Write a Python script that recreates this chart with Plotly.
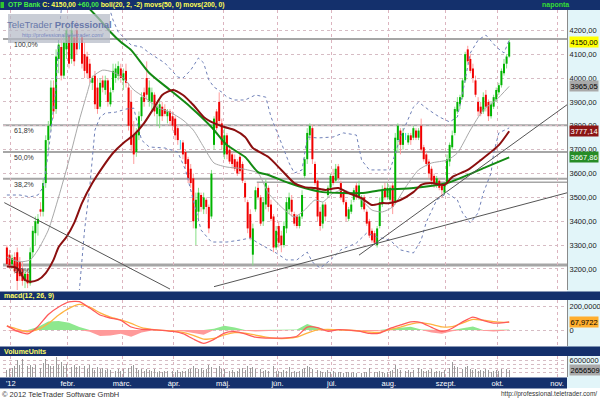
import pandas as pd
import plotly.graph_objects as go

# ---------------- data ----------------
holidays = ["2012-03-15", "2012-03-16", "2012-04-09", "2012-04-30",
            "2012-05-01", "2012-05-28", "2012-08-20"]
trading_days = [d.strftime("%Y-%m-%d")
                for d in pd.bdate_range("2011-12-29", "2012-10-05")
                if d.strftime("%Y-%m-%d") not in holidays]

opens = [3290,3260,3220,3250,3270,3230,3200,3150,3180,3140,
         3270,3350,3390,3450,3440,3560,3740,3800,3960,3870,
         4080,4130,4010,4120,4180,4080,4170,4200,4140,4170,
         4100,4090,4060,3980,4010,3960,3880,3990,3950,3990,
         3890,3950,4000,4010,4040,3990,4030,3960,3900,3760,
         3690,3760,3840,3940,4000,3900,3900,3930,3850,3840,
         3880,3870,3840,3860,3840,3830,3790,3720,3730,3690,
         3660,3620,3580,3370,3440,3510,3450,3490,3460,3420,
         3720,3860,3900,3810,3680,3760,3700,3680,3660,3650,
         3670,3640,3560,3480,3430,3260,3450,3540,3500,3400,
         3470,3540,3470,3420,3290,3380,3340,3300,3370,3450,
         3490,3430,3420,3380,3420,3590,3660,3760,3790,3640,
         3570,3440,3390,3470,3510,3540,3590,3570,3630,3560,
         3520,3480,3410,3440,3490,3550,3500,3460,3500,3440,
         3400,3360,3350,3300,3380,3470,3540,3500,3490,3550,
         3480,3740,3780,3720,3760,3730,3760,3750,3780,3750,
         3800,3710,3680,3650,3620,3590,3550,3570,3550,3520,
         3560,3650,3710,3770,3860,3890,3920,3990,4120,4080,
         4040,3990,3900,3880,3860,3930,3900,3840,3880,3910,
         3940,3970,4020,4060,4090]
highs = [3300,3280,3260,3270,3290,3250,3230,3200,3200,3290,
         3380,3420,3430,3480,3580,3760,3820,3990,3990,4120,
         4160,4170,4180,4220,4200,4230,4200,4240,4170,4180,
         4150,4110,4080,4010,4030,4000,4000,4010,4010,4000,
         3960,4060,4060,4070,4060,4040,4060,3980,3950,3820,
         3790,3860,3940,3960,4070,3990,3960,3940,3900,3910,
         3900,3890,3870,3870,3860,3840,3800,3740,3740,3700,
         3670,3640,3600,3520,3540,3520,3520,3500,3470,3615,
         3840,3870,3940,3830,3790,3770,3720,3690,3680,3660,
         3690,3650,3570,3490,3450,3390,3545,3560,3510,3500,
         3580,3550,3490,3430,3380,3400,3360,3400,3500,3520,
         3510,3440,3430,3430,3530,3670,3790,3810,3805,3650,
         3580,3460,3480,3480,3550,3600,3620,3640,3640,3570,
         3530,3490,3460,3490,3540,3560,3570,3510,3510,3450,
         3410,3370,3360,3380,3500,3550,3560,3560,3550,3560,
         3770,3810,3790,3790,3770,3770,3770,3800,3790,3790,
         3830,3720,3690,3660,3630,3600,3590,3580,3560,3560,
         3680,3730,3780,3880,3920,3930,4000,4110,4135,4100,
         4060,4010,3920,3900,3940,3950,3910,3900,3930,3960,
         3980,4040,4080,4100,4165]
lows = [3210,3200,3200,3180,3112,3150,3130,3120,3120,3130,
        3250,3300,3340,3420,3420,3540,3700,3780,3830,3850,
        4020,3990,4000,4080,4040,4060,4050,4100,4120,4040,
        4000,4000,3980,3950,3870,3850,3870,3940,3930,3880,
        3880,3940,3980,3990,3980,3950,3960,3780,3690,3640,
        3670,3740,3820,3880,3910,3880,3860,3840,3800,3790,
        3820,3840,3810,3800,3780,3740,3720,3700,3660,3620,
        3560,3540,3370,3300,3400,3440,3430,3430,3350,3410,
        3700,3780,3800,3700,3660,3660,3640,3620,3610,3590,
        3600,3560,3480,3350,3320,3215,3440,3490,3380,3380,
        3450,3440,3400,3270,3280,3290,3270,3290,3350,3430,
        3420,3380,3370,3370,3410,3580,3640,3740,3640,3550,
        3400,3360,3370,3400,3500,3520,3550,3560,3570,3490,
        3470,3400,3400,3430,3480,3490,3490,3450,3440,3380,
        3330,3310,3300,3290,3370,3460,3490,3490,3480,3430,
        3470,3690,3680,3700,3740,3720,3720,3740,3740,3740,
        3690,3650,3630,3580,3550,3540,3540,3530,3500,3510,
        3550,3630,3700,3760,3850,3870,3910,3980,4060,4020,
        3980,3920,3840,3840,3850,3860,3820,3830,3870,3900,
        3930,3960,4010,4040,4085]
closes = [3220,3215,3245,3190,3150,3170,3150,3180,3140,3270,
          3360,3400,3410,3440,3560,3740,3800,3960,3860,4090,
          4140,4010,4150,4200,4060,4200,4070,4120,4140,4060,
          4030,4020,4000,4000,3890,3870,3980,3960,3990,3900,
          3940,4030,4040,4050,4000,4020,3980,3800,3720,3680,
          3770,3840,3920,3900,3930,3960,3940,3860,3880,3890,
          3840,3850,3860,3820,3800,3760,3740,3720,3680,3640,
          3580,3560,3400,3490,3520,3460,3500,3460,3370,3600,
          3830,3790,3820,3720,3760,3680,3650,3640,3620,3600,
          3610,3570,3500,3370,3330,3370,3530,3500,3390,3480,
          3560,3460,3410,3290,3360,3310,3300,3380,3480,3500,
          3440,3390,3380,3420,3510,3660,3770,3800,3660,3560,
          3420,3380,3470,3420,3540,3590,3560,3620,3580,3500,
          3480,3420,3450,3470,3530,3500,3550,3500,3450,3390,
          3340,3320,3310,3370,3480,3530,3500,3540,3540,3460,
          3750,3800,3720,3770,3760,3760,3740,3790,3750,3780,
          3700,3660,3640,3600,3570,3560,3580,3540,3530,3550,
          3660,3720,3760,3870,3900,3920,3990,4100,4070,4030,
          4000,3930,3860,3850,3920,3880,3840,3890,3920,3950,
          3970,4030,4060,4090,4150]
volumes_m = [2.5,3.0,3.2,4.0,6.1,4.5,6.7,4.9,3.9,4.4,
             3.8,4.6,4.2,3.5,5.0,6.6,4.8,4.1,3.9,7.2,
             4.6,5.4,4.0,4.9,5.3,3.8,4.6,3.6,4.2,3.3,
             3.9,3.1,4.3,3.2,2.7,3.6,2.9,3.4,2.5,3.0,
             2.6,3.2,2.4,2.8,2.3,3.0,2.6,3.5,4.1,4.4,
             3.2,2.7,2.9,2.3,3.1,2.6,2.2,2.8,2.0,2.4,
             1.9,2.3,2.1,1.8,2.2,1.9,2.5,1.7,2.4,2.1,
             2.8,3.0,4.2,3.5,2.9,3.3,2.6,3.1,4.3,3.6,
             6.3,3.4,3.9,2.8,3.1,2.5,2.2,2.7,2.0,2.4,
             2.9,3.2,2.6,4.1,3.4,3.8,2.9,2.5,3.0,2.3,
             2.6,2.1,2.8,3.9,2.4,2.2,1.9,2.6,2.3,3.6,
             2.0,2.2,1.8,2.4,2.9,3.5,4.2,3.8,3.1,2.5,
             2.7,2.3,2.0,1.8,2.6,1.9,2.2,1.6,1.8,2.0,
             1.5,1.9,1.7,1.4,1.8,1.6,2.1,1.5,1.8,1.9,
             3.3,2.4,2.0,1.7,2.3,2.0,1.6,1.9,2.2,2.5,
             4.4,3.1,2.6,2.9,2.2,2.5,2.0,2.7,2.3,3.4,
             2.8,2.4,2.1,2.6,2.9,1.9,2.4,2.2,2.0,2.7,
             3.6,3.2,5.6,4.1,3.8,3.3,3.0,3.7,4.0,3.1,
             2.6,2.8,2.4,2.7,2.2,3.0,2.5,1.9,2.3,2.6,
             2.1,2.8,2.4,3.1,2.656509]

# indicator lines (index into trading_days, value)
ma50_day = [0,4,7,9,12,15,18,20,23,26,29,33,37,41,45,49,53,57,60,64,68,72,76,80,84,
            88,92,95,101,106,111,115,119,123,128,132,137,141,145,148,152,157,160,164,
            169,172,178,183,190,194]
ma50_val = [3210,3204,3154,3147,3154,3183,3238,3292,3334,3393,3476,3560,3627,3686,3728,
            3761,3811,3878,3929,3950,3929,3887,3837,3811,3795,3782,3753,3707,3669,3615,
            3560,3543,3539,3531,3539,3518,3497,3468,3476,3476,3489,3522,3552,3560,3552,
            3585,3615,3656,3719,3777.14]
ma200_day = [31,36,40,44,48,55,63,71,79,85,92,97,101,109,115,122,130,137,145,157,170,178,185,194]
ma200_val = [4300,4243,4193,4151,4117,4021,3950,3878,3795,3719,3669,3606,3594,3560,3539,
             3522,3518,3518,3531,3539,3560,3594,3627,3667.86]
bb_mid_day = [0,5,9,12,16,20,24,28,31,33,37,41,45,49,53,58,63,68,72,76,80,85,89,93,97,101,
              106,111,115,119,122,126,130,133,137,141,145,149,154,159,164,170,174,179,184,189,194]
bb_mid_val = [3250,3230,3238,3280,3363,3502,3656,3824,3937,4004,4033,4025,4000,3950,3920,
              3878,3857,3824,3782,3711,3644,3627,3623,3615,3602,3518,3460,3418,3447,3489,
              3481,3518,3531,3518,3489,3447,3439,3460,3543,3615,3644,3656,3686,3782,3866,
              3908,3965.05]
bb_up_day = [0,5,9,12,14,16,19,20,21,25,30,36,41,43,48,52,55,61,66,68,71,74,76,78,80,83,85,
             88,92,96,100,102,106,109,111,114,116,120,126,130,135,137,140,145,148,152,157,
             159,163,167,171,174,176,179,182,185,189,192,194]
bb_up_val = [3510,3510,3502,3510,3543,3686,3962,4172,4285,4480,4520,4420,4243,4193,4138,
             4130,4105,4063,4004,4000,4033,4084,4063,3992,3962,3941,3920,3908,3908,3929,
             3920,3837,3728,3644,3602,3615,3753,3749,3753,3770,3761,3656,3615,3615,3615,
             3753,3878,3899,3866,3837,3816,3837,3937,4105,4159,4180,4130,4105,4159]
bb_low_day = [26,28,30,32,34,36,38,42,46,49,52,55,61,66,69,72,75,79,85,90,94,97,100,104,108,
              112,116,118,121,125,129,135,139,143,148,152,157,160,162,166,170,174,176,179,
              182,184,187,188,190,192,194]
bb_low_val = [2980,3112,3363,3543,3782,3837,3853,3857,3870,3874,3740,3711,3707,3690,3615,
              3489,3363,3313,3313,3321,3330,3309,3292,3267,3238,3238,3271,3229,3204,3238,
              3280,3309,3351,3334,3321,3280,3267,3321,3397,3489,3518,3489,3435,3393,3435,
              3518,3602,3686,3770,3782,3791]

macd_day = list(range(0, 193, 4)) + [194]
macd_line = [34,-10,-32,30,130,192,234,236,183,125,100,80,25,6,4,-3,-12,-30,-75,-111,
             -78,-25,-14,-32,-60,-67,-68,-66,-52,25,20,-10,3,0,-10,-28,-25,14,42,68,
             62,22,-12,15,68,108,80,58,62,67.9722]
macd_signal = [34,8,-14,5,55,125,180,213,190,143,108,84,55,20,5,-3,-7,-20,-45,-75,
               -70,-40,-22,-25,-42,-60,-70,-70,-60,-25,2,5,2,-2,-8,-17,-19,5,25,50,
               62,47,27,28,58,88,82,70,64,64]
macd_hist = [0,-15,-20,25,70,75,60,25,-15,-50,-45,-30,-55,-20,-3,0,-3,-10,-25,-40,
             10,36,20,-5,-12,-8,-3,0,5,50,20,-12,0,0,-3,-10,-6,10,20,28,
             5,-20,-30,-10,15,30,-5,-12,-5,5]

fib_levels = [4163, 3802, 3690, 3578, 3217]
fib_labels = ["100,0%", "61,8%", "50,0%", "38,2%", "0,0%"]
support_level = 3563

trend_x = [["2011-12-28", "2012-03-29"], ["2012-04-24", "2012-11-08"], ["2012-07-16", "2012-11-08"]]
trend_y = [[3478, 3116], [3126, 3524], [3258, 3901]]

month_ticks = ["2011-12-30 12:00", "2012-01-31 12:00", "2012-02-29 12:00", "2012-03-30 12:00",
               "2012-04-27 12:00", "2012-05-31 12:00", "2012-06-29 12:00", "2012-07-31 12:00",
               "2012-08-31 12:00", "2012-09-28 12:00", "2012-10-31 12:00"]
month_labels = ["'12", "febr.", "márc.", "ápr.", "máj.", "jún.", "júl.", "aug.", "szept.", "okt.", "nov."]

# ---------------- helpers ----------------
W, H = 600, 400
def px(x): return x / W
def py(y): return 1 - y / H
def fmt(v, n): return f"{v:.{n}f}".replace(".", ",")
def pick(days): return [trading_days[k] for k in days]

NAVY = "#14306c"
FONT = "Liberation Sans"

fig = go.Figure()

# candles: wicks (light) then bodies (saturated)
wick_sets = [(lambda o, c: c > o, "#86df86"), (lambda o, c: c < o, "#ff9c9c"), (lambda o, c: c == o, "#33d6f0")]
for cond, col in wick_sets:
    xs, ys = [], []
    for d, o, h, l, c in zip(trading_days, opens, highs, lows, closes):
        if cond(o, c):
            xs += [d, d, None]
            ys += [l, h, None]
    fig.add_trace(go.Scatter(x=xs, y=ys, mode="lines", line=dict(color=col, width=1),
                             hoverinfo="skip", xaxis="x", yaxis="y"))
body_sets = [(lambda o, c: c > o, "#00b400"), (lambda o, c: c < o, "#f00000")]
for cond, col in body_sets:
    xs, ys = [], []
    for d, o, c in zip(trading_days, opens, closes):
        if cond(o, c):
            xs += [d, d, None]
            ys += [o, c, None]
    fig.add_trace(go.Scatter(x=xs, y=ys, mode="lines", line=dict(color=col, width=2),
                             hoverinfo="skip", xaxis="x", yaxis="y"))

# bollinger
for days, vals in [(bb_up_day, bb_up_val), (bb_low_day, bb_low_val)]:
    fig.add_trace(go.Scatter(x=pick(days), y=vals, mode="lines",
                             line=dict(color="#6f80b8", width=1, dash="dot"),
                             xaxis="x", yaxis="y", hoverinfo="skip"))
fig.add_trace(go.Scatter(x=pick(bb_mid_day), y=bb_mid_val, mode="lines",
                         line=dict(color="#a8a8a8", width=1, shape="spline", smoothing=0.6),
                         xaxis="x", yaxis="y", hoverinfo="skip"))
# moving averages
fig.add_trace(go.Scatter(x=pick(ma200_day), y=ma200_val, mode="lines",
                         line=dict(color="#138a13", width=2, shape="spline", smoothing=0.6),
                         xaxis="x", yaxis="y", hoverinfo="skip"))
fig.add_trace(go.Scatter(x=pick(ma50_day), y=ma50_val, mode="lines",
                         line=dict(color="#8b0f0f", width=2, shape="spline", smoothing=0.6),
                         xaxis="x", yaxis="y", hoverinfo="skip"))
# trend lines
for tx, ty in zip(trend_x, trend_y):
    fig.add_trace(go.Scatter(x=tx, y=ty, mode="lines", line=dict(color="#555555", width=1),
                             xaxis="x", yaxis="y", hoverinfo="skip"))

# MACD
macd_x = pick(macd_day)
fig.add_trace(go.Scatter(x=macd_x, y=[max(v, 0) for v in macd_hist], mode="lines", fill="tozeroy",
                         line=dict(width=0, color="#8ee88e"), fillcolor="#8ee88e",
                         xaxis="x2", yaxis="y2", hoverinfo="skip"))
fig.add_trace(go.Scatter(x=macd_x, y=[min(v, 0) for v in macd_hist], mode="lines", fill="tozeroy",
                         line=dict(width=0, color="#ff9a9a"), fillcolor="#ff9a9a",
                         xaxis="x2", yaxis="y2", hoverinfo="skip"))
fig.add_trace(go.Scatter(x=macd_x, y=macd_signal, mode="lines",
                         line=dict(color="#ffb340", width=1.3, shape="spline", smoothing=0.6),
                         xaxis="x2", yaxis="y2", hoverinfo="skip"))
fig.add_trace(go.Scatter(x=macd_x, y=macd_line, mode="lines",
                         line=dict(color="#ff5a5a", width=1.3, shape="spline", smoothing=0.6),
                         xaxis="x2", yaxis="y2", hoverinfo="skip"))

# Volume
volumes = [v * 1e6 for v in volumes_m]
fig.add_trace(go.Bar(x=trading_days, y=volumes, marker=dict(color="#9a9a9a", line=dict(width=0)),
                     width=0.35 * 86400000, xaxis="x3", yaxis="y3", hoverinfo="skip"))

# ---------------- axes ----------------
breaks = [dict(bounds=["sat", "mon"]), dict(values=holidays)]
xrange_ = ["2011-12-27 12:00", "2012-11-06 08:00"]
xdom = [px(3), px(567)]
common_x = dict(type="date", range=xrange_, rangebreaks=breaks, domain=xdom,
                tickvals=month_ticks, ticktext=month_labels, showgrid=True,
                gridcolor="#dcb4bf", griddash="dot", gridwidth=1, zeroline=False,
                showline=False, ticks="", fixedrange=True)
fig.update_layout(
    xaxis=dict(common_x, anchor="y", showticklabels=False),
    xaxis2=dict(common_x, anchor="y2", matches="x", showticklabels=False),
    xaxis3=dict(common_x, anchor="y3", matches="x", showticklabels=True,
                tickfont=dict(family=FONT, size=7.5, color="#ffffff")),
    yaxis=dict(domain=[py(290), py(10)], range=[3112, 4285], side="right", anchor="x",
               tickvals=list(range(3200, 4201, 100)), tickformat=".2f",
               tickfont=dict(family=FONT, size=7.5, color="#202020"),
               showgrid=True, gridcolor="#d6bcc4", griddash="dot", zeroline=False,
               showline=True, linecolor="#8a8a8a", linewidth=1, ticks="", fixedrange=True),
    yaxis2=dict(domain=[py(346), py(300)], range=[-133, 250], side="right", anchor="x2",
                tickvals=[0, 200], ticktext=["0", "200,0000"],
                tickfont=dict(family=FONT, size=7.5, color="#202020"),
                showgrid=True, gridcolor="#d6bcc4", griddash="dot", zeroline=False,
                showline=True, linecolor="#8a8a8a", linewidth=1, ticks="", fixedrange=True),
    yaxis3=dict(domain=[py(377), py(356)], range=[0, 7.75e6], side="right", anchor="x3",
                tickvals=[1.5e6, 3e6, 4.5e6, 6e6], ticktext=["", "", "", "6000000"],
                tickfont=dict(family=FONT, size=7.5, color="#202020"),
                showgrid=True, gridcolor="#d6bcc4", griddash="dot", zeroline=False,
                showline=True, linecolor="#8a8a8a", linewidth=1, ticks="", fixedrange=True),
)

# ---------------- shapes ----------------
shapes = []
shapes.append(dict(type="rect", xref="paper", yref="paper", x0=px(567), x1=1, y0=py(388), y1=py(10),
                   fillcolor="#e2f5f9", line=dict(width=0), layer="below"))
for y0, y1, x1 in [(0, 10, 600), (291.5, 300, 600), (346.5, 356, 600), (377.5, 388.5, 567)]:
    shapes.append(dict(type="rect", xref="paper", yref="paper", x0=0, x1=px(x1), y0=py(y1), y1=py(y0),
                       fillcolor=NAVY, line=dict(width=0), layer="below"))
shapes.append(dict(type="rect", xref="paper", yref="paper", x0=px(0.5), x1=px(4), y0=py(8), y1=py(2),
                   fillcolor="#2fc42f", line=dict(width=0), layer="above"))
for lv in fib_levels:
    shapes.append(dict(type="line", xref="x domain", yref="y", x0=0, x1=1, y0=lv, y1=lv,
                       line=dict(color="#a6a6a6", width=2 if lv != fib_levels[-1] else 3), layer="below"))
shapes.append(dict(type="line", xref="x domain", yref="y", x0=0.45, x1=1, y0=support_level, y1=support_level,
                   line=dict(color="#a6a6a6", width=1.5), layer="below"))
shapes.append(dict(type="rect", xref="paper", yref="paper", x0=px(8), x1=px(110), y0=py(43), y1=py(14),
                   fillcolor="rgba(180,186,198,0.72)", line=dict(width=0), layer="above"))
fig.update_layout(shapes=shapes)

# ---------------- annotations ----------------
ann = []
chg = closes[-1] - closes[-2]
header = ("<span style='color:#44ee44'>OTP Bank</span> C: " + fmt(closes[-1], 2) +
          " <span style='color:#44ee44'>" + ("+" if chg >= 0 else "") + fmt(chg, 2) + "</span>" +
          " boll(20, 2, -2) movs(50, 0) movs(200, 0)")
ann.append(dict(text="<b>" + header + "</b>", xref="paper", yref="paper", x=px(6), y=py(5),
                xanchor="left", yanchor="middle", showarrow=False,
                font=dict(family=FONT, size=6.8, color="#ffff55")))
ann.append(dict(text="<b>naponta</b>", xref="paper", yref="paper", x=px(555), y=py(5),
                xanchor="center", yanchor="middle", showarrow=False,
                font=dict(family=FONT, size=7, color="#33dd33")))
ann.append(dict(text="<b>macd(12, 26, 9)</b>", xref="paper", yref="paper", x=px(2), y=py(296),
                xanchor="left", yanchor="middle", showarrow=False,
                font=dict(family=FONT, size=7, color="#ffff66")))
ann.append(dict(text="<b>VolumeUnits</b>", xref="paper", yref="paper", x=px(2), y=py(351.5),
                xanchor="left", yanchor="middle", showarrow=False,
                font=dict(family=FONT, size=7, color="#ffff66")))
ann.append(dict(text="TeleTrader <b>Professional</b>", xref="paper", yref="paper", x=px(59), y=py(24),
                xanchor="center", yanchor="middle", showarrow=False,
                font=dict(family=FONT, size=9.5, color="#6878aa")))
ann.append(dict(text="http://professional.teletrader.com/", xref="paper", yref="paper", x=px(63), y=py(35),
                xanchor="center", yanchor="middle", showarrow=False,
                font=dict(family=FONT, size=5.5, color="#7888c0")))
for lv, lb in zip(fib_levels, fib_labels):
    ann.append(dict(text=lb, xref="paper", yref="y", x=px(12), y=lv, xanchor="left", yanchor="top",
                    showarrow=False, font=dict(family=FONT, size=7, color="#333333")))
cur = [(closes[-1], "y", fmt(closes[-1], 2), "#ffff00", "#000000"),
       (bb_mid_val[-1], "y", fmt(bb_mid_val[-1], 2), "#a9a9a9", "#000000"),
       (ma50_val[-1], "y", fmt(ma50_val[-1], 2), "#8b1515", "#ffffff"),
       (ma200_val[-1], "y", fmt(ma200_val[-1], 2), "#268c26", "#ffffff"),
       (macd_line[-1], "y2", fmt(macd_line[-1], 4), "#ffae2e", "#000000"),
       (volumes[-1], "y3", f"{volumes[-1]:.0f}", "#a9a9a9", "#000000")]
for val, yr, txt, bg, fc in cur:
    ann.append(dict(text=txt, xref="paper", yref=yr, x=px(568.5), y=val, xanchor="left", yanchor="middle",
                    showarrow=False, bgcolor=bg, borderpad=0.5,
                    font=dict(family=FONT, size=7.5, color=fc)))
ann.append(dict(text="© 2012 TeleTrader Software GmbH", xref="paper", yref="paper", x=px(0), y=py(394),
                xanchor="left", yanchor="middle", showarrow=False,
                font=dict(family=FONT, size=7.5, color="#333333")))
ann.append(dict(text="http://professional.teletrader.com/", xref="paper", yref="paper", x=px(599), y=py(394),
                xanchor="right", yanchor="middle", showarrow=False,
                font=dict(family=FONT, size=6.5, color="#333333")))
fig.update_layout(annotations=ann)

fig.update_layout(width=W, height=H, margin=dict(l=0, r=0, t=0, b=0),
                  paper_bgcolor="#ffffff", plot_bgcolor="#ffffff", showlegend=False,
                  separators=", ", hovermode=False, bargap=0)

fig.write_html("out.html", config={"displayModeBar": False, "staticPlot": True},
               post_script="document.body.style.margin='0';document.body.style.overflow='hidden';")
